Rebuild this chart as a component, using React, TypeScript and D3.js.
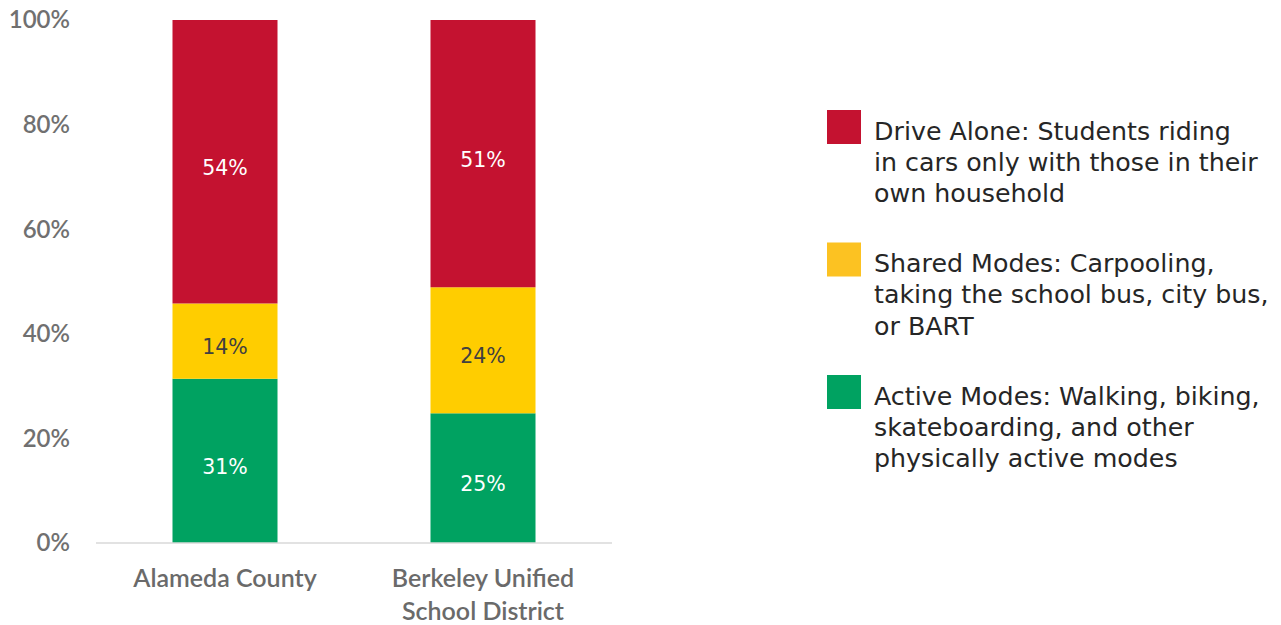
import React from "react";
import * as d3 from "d3";

const categories: string[][] = [["Alameda County"], ["Berkeley Unified", "School District"]];
const seriesNames = ["Active Modes", "Shared Modes", "Drive Alone"];
const activeValues = [31.4, 24.8];
const sharedValues = [14.4, 24.1];
const driveValues = [54.2, 51.1];
const valueLabels = [
  ["31%", "25%"],
  ["14%", "24%"],
  ["54%", "51%"],
];
const yTicks = [0, 20, 40, 60, 80, 100];
const legendItems: string[][] = [
  ["Drive Alone: Students riding", "in cars only with those in their", "own household"],
  ["Shared Modes: Carpooling,", "taking the school bus, city bus,", "or BART"],
  ["Active Modes: Walking, biking,", "skateboarding, and other", "physically active modes"],
];

const barColors = ["#00A261", "#FFCD00", "#C41230"];
const legendColors = ["#C41230", "#FCC222", "#00A261"];
const labelColors = ["#FFFFFF", "#404040", "#FFFFFF"];

export default function App() {
  const W = 1281;
  const H = 625;
  const x = d3.scaleBand<number>().domain([0, 1]).range([96, 612]).padding(0);
  const y = d3.scaleLinear().domain([0, 100]).range([543, 20]);
  const barW = x.bandwidth() * 0.407;

  const data = categories.map((_, i) => ({
    i,
    Active: activeValues[i],
    Shared: sharedValues[i],
    Drive: driveValues[i],
  }));
  const stack = d3.stack<any>().keys(["Active", "Shared", "Drive"]);
  const series = stack(data);

  const font = "Lato, 'Open Sans', sans-serif";

  return (
    <svg width={W} height={H} style={{ position: "absolute", left: 0, top: 0, background: "#fff" }}>
      {yTicks.map((t) => (
        <text
          key={t}
          x={70}
          y={y(t)}
          dy="0.35em"
          textAnchor="end"
          fontFamily={font}
          fontSize={24}
          fontWeight={600}
          fill="#707070"
        >
          {t}%
        </text>
      ))}
      {series.map((s, si) =>
        s.map((d, i) => {
          const cx = (x(i) as number) + x.bandwidth() / 2;
          const y0 = y(d[0]);
          const y1 = y(d[1]);
          return (
            <g key={`${si}-${i}`}>
              <rect x={cx - barW / 2} y={y1} width={barW} height={y0 - y1} fill={barColors[si]} />
              <text
                x={cx}
                y={(y0 + y1) / 2 + 6}
                dy="0.35em"
                textAnchor="middle"
                fontFamily="'DejaVu Sans', sans-serif"
                fontSize={20.5}
                fill={labelColors[si]}
              >
                {valueLabels[si][i]}
              </text>
            </g>
          );
        })
      )}
      <line x1={96} x2={612} y1={y(0)} y2={y(0)} stroke="#d9d9d9" strokeWidth={1.5} />
      {categories.map((lines, i) => {
        const cx = (x(i) as number) + x.bandwidth() / 2;
        return lines.map((ln, li) => (
          <text
            key={`${i}-${li}`}
            x={cx}
            y={578 + li * 33}
            dy="0.35em"
            textAnchor="middle"
            fontFamily={font}
            fontSize={25}
            fontWeight={600}
            fill="#6a6a6a"
          >
            {ln}
          </text>
        ));
      })}
      {legendItems.map((lines, k) => {
        const top = 110 + k * 132.5;
        return (
          <g key={k}>
            <rect x={827} y={top} width={34} height={34} fill={legendColors[k]} />
            {lines.map((ln, li) => (
              <text
                key={li}
                x={874}
                y={top + 29.5 + li * 31.3}
                fontFamily="'DejaVu Sans', sans-serif"
                fontSize={25.3}
                fill="#262626"
              >
                {ln}
              </text>
            ))}
          </g>
        );
      })}
    </svg>
  );
}
